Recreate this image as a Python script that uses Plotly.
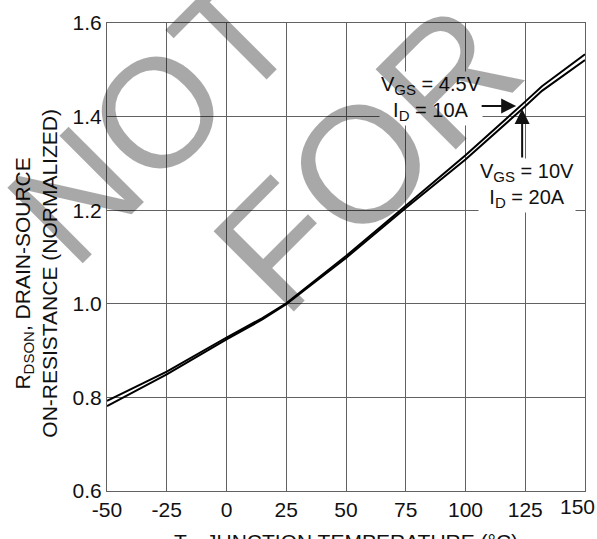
import plotly.graph_objects as go

# Junction temperature (°C)
temp_c = [-50, -25, 0, 15, 25, 42, 50, 75, 100, 125, 132, 150]
# Normalized RDS(on), VGS = 4.5V, ID = 10A
r_vgs45 = [0.7925, 0.855, 0.928, 0.9695, 1.001, 1.069, 1.102, 1.2095, 1.3175, 1.432, 1.465, 1.533]
# Normalized RDS(on), VGS = 10V, ID = 20A
r_vgs10 = [0.7815, 0.849, 0.924, 0.9665, 0.999, 1.065, 1.098, 1.2045, 1.3085, 1.422, 1.455, 1.521]

x_ticks = [-50, -25, 0, 25, 50, 75, 100, 125, 150]
y_ticks = [0.6, 0.8, 1.0, 1.2, 1.4, 1.6]

FONT = "Liberation Sans, Arial, Helvetica, sans-serif"
GRID = "#626262"
INK = "#111111"

fig = go.Figure()
fig.add_trace(go.Scatter(x=temp_c, y=r_vgs45, mode="lines",
                         line=dict(color="black", width=2), showlegend=False))
fig.add_trace(go.Scatter(x=temp_c, y=r_vgs10, mode="lines",
                         line=dict(color="black", width=2), showlegend=False))

axis_common = dict(showline=True, linecolor=GRID, linewidth=1, mirror=True,
                   showgrid=True, gridcolor=GRID, gridwidth=1, zeroline=False,
                   ticks="", tickfont=dict(family=FONT, size=21, color=INK))

# last x label would overflow the page; it is drawn as an annotation instead
x_ticktext = [str(v) for v in x_ticks[:-1]] + [""]
fig.update_xaxes(range=[-50, 150], tickvals=x_ticks, ticktext=x_ticktext, **axis_common)
fig.update_yaxes(range=[0.6, 1.6], tickvals=y_ticks,
                 ticktext=[f"{v:.1f}" for v in y_ticks], **axis_common)

SUB = "<sub><span style='font-size:15px'>{}</span></sub>"

annotations = [
    # last x tick label
    dict(text=str(x_ticks[-1]), xref="x", yref="paper", x=x_ticks[-1], y=0,
         xanchor="right", yanchor="top", xshift=12, yshift=-2, showarrow=False,
         font=dict(family=FONT, size=21, color=INK)),
    # axis titles
    dict(text="T" + SUB.format("J") + ", JUNCTION TEMPERATURE (°C)", xref="paper", yref="paper",
         x=0.5, y=-0.078, xanchor="center", yanchor="top", showarrow=False,
         font=dict(family=FONT, size=21, color=INK)),
    dict(text="R" + SUB.format("DSON") + ", DRAIN-SOURCE<br>ON-RESISTANCE (NORMALIZED)",
         xref="paper", yref="paper", x=-0.149, y=0.466, xanchor="center", yanchor="middle",
         textangle=-90, showarrow=False, font=dict(family=FONT, size=21, color=INK)),
    # curve labels
    dict(text="V" + SUB.format("GS") + " = 4.5V<br>I" + SUB.format("D") + " = 10A", x=85.7, y=1.438,
         xanchor="center", yanchor="middle", showarrow=False, bgcolor="white",
         borderpad=1, font=dict(family=FONT, size=20, color=INK)),
    dict(text="V" + SUB.format("GS") + " = 10V<br>I" + SUB.format("D") + " = 20A", x=125.8, y=1.253,
         xanchor="center", yanchor="middle", showarrow=False, bgcolor="white",
         borderpad=1, font=dict(family=FONT, size=20, color=INK)),
    # arrows
    dict(text="", x=121.2, y=1.4226, ax=-36, ay=0, showarrow=True, arrowhead=2,
         arrowsize=1.5, arrowwidth=2, arrowcolor=INK, standoff=0),
    dict(text="", x=123.7, y=1.416, ax=0, ay=50, showarrow=True, arrowhead=2,
         arrowsize=1.5, arrowwidth=2, arrowcolor=INK, standoff=0),
    # watermark
    dict(text="NOT", xref="paper", yref="paper", x=0.094, y=0.796, xanchor="center",
         yanchor="middle", textangle=-45, showarrow=False,
         font=dict(family=FONT, size=155, color="rgba(0,0,0,0.34)")),
    dict(text="FOR", xref="paper", yref="paper", x=0.543, y=0.712, xanchor="center",
         yanchor="middle", textangle=-45, showarrow=False,
         font=dict(family=FONT, size=165, color="rgba(0,0,0,0.34)")),
]

fig.update_layout(width=597, height=539, margin=dict(l=107, r=11, t=12, b=48),
                  paper_bgcolor="white", plot_bgcolor="white",
                  annotations=annotations, showlegend=False)

fig.write_html("out.html")
